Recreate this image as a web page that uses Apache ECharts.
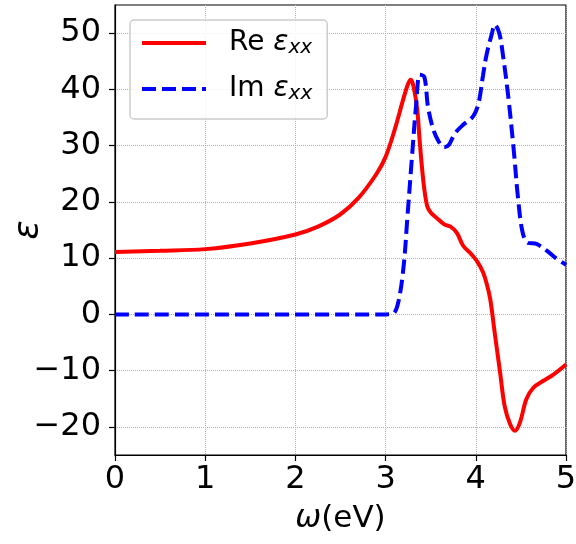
<!DOCTYPE html>
<html>
<head>
<meta charset="utf-8">
<script src="https://cdn.jsdelivr.net/npm/echarts@6/dist/echarts.min.js"></script>
<style>
html,body{margin:0;padding:0;background:#fff;}
#chart{width:576px;height:544px;}
</style>
</head>
<body>
<div id="chart"></div>
<script>
var reX = [0, 0.5, 1.0, 1.5, 2.0, 2.25, 2.5, 2.7, 2.9, 3.0, 3.1, 3.2, 3.25, 3.28, 3.31, 3.35, 3.38, 3.42, 3.46, 3.5, 3.57, 3.65, 3.72, 3.79, 3.86, 3.95, 4.02, 4.08, 4.12, 4.16, 4.21, 4.27, 4.32, 4.38, 4.435, 4.49, 4.56, 4.64, 4.75, 4.86, 5.0];
var reY = [11.1, 11.3, 11.6, 12.6, 14.2, 15.6, 17.8, 20.7, 25.0, 28.0, 32.8, 38.5, 41.0, 41.7, 40.5, 36.5, 30.4, 23.5, 19.3, 18.1, 17.1, 16.0, 15.6, 14.5, 12.2, 10.7, 9.3, 7.5, 5.5, 2.7, -3.3, -10.4, -16.3, -19.5, -20.7, -19.2, -15.1, -13.0, -11.8, -10.7, -8.9];
var imX = [0, 3.0, 3.08, 3.14, 3.2, 3.24, 3.29, 3.34, 3.38, 3.43, 3.47, 3.53, 3.59, 3.65, 3.7, 3.77, 3.86, 3.97, 4.03, 4.08, 4.12, 4.18, 4.21, 4.26, 4.30, 4.36, 4.42, 4.47, 4.52, 4.58, 4.66, 4.71, 4.79, 4.88, 5.0];
var imY = [0, 0, 0.1, 2.1, 8.6, 16.9, 27.5, 37.5, 42.6, 42.2, 36.9, 32.8, 30.7, 29.7, 30.1, 32.2, 33.7, 35.2, 37.5, 42.5, 46.2, 50.0, 51.5, 50.0, 46.2, 38.7, 29.3, 20.4, 14.5, 12.7, 12.6, 12.2, 11.3, 10.1, 8.8];
var xTicks = [0, 1, 2, 3, 4, 5];
var yTicks = [-20, -10, 0, 10, 20, 30, 40, 50];
var seriesNames = ['Re', 'Im'];

function pairs(xs, ys) { return xs.map(function (x, i) { return [x, ys[i]]; }); }

var FONT = 'DejaVu Sans';
var chart = echarts.init(document.getElementById('chart'), null, {renderer: 'canvas'});
chart.setOption({
  animation: false,
  backgroundColor: '#fff',
  grid: {left: 115, right: 10, top: 5, bottom: 89, show: true, borderColor: '#000', borderWidth: 1.2,
         backgroundColor: 'transparent', containLabel: false, outerBoundsMode: 'none'},
  legend: {
    left: 130, top: 20, orient: 'vertical',
    data: seriesNames,
    itemWidth: 64, itemHeight: 28, itemGap: 17,
    padding: [9, 15, 15, 10],
    backgroundColor: 'rgba(255,255,255,0.85)',
    borderColor: '#cccccc', borderWidth: 1.5, borderRadius: 4,
    itemStyle: {opacity: 0},
    lineStyle: {width: 4},
    formatter: function (n) { return '{a|' + n + ' }{b|ε}{c|xx}'; },
    textStyle: {
      fontFamily: FONT, fontSize: 28, color: '#000', padding: [0, 0, 0, 18],
      rich: {
        a: {fontFamily: FONT, fontSize: 28, color: '#000'},
        b: {fontFamily: FONT, fontSize: 28, fontStyle: 'italic', color: '#000'},
        c: {fontFamily: FONT, fontSize: 20, fontStyle: 'italic', color: '#000', verticalAlign: 'bottom', padding: [10, 0, 0, 0]}
      }
    }
  },
  xAxis: {
    type: 'value', min: 0, max: 5, interval: 1,
    name: '{w|ω}(eV)', nameLocation: 'middle', nameGap: 48, nameMoveOverlap: false,
    nameTextStyle: {fontFamily: FONT, fontSize: 31, color: '#000', rich: {w: {fontFamily: FONT, fontSize: 31, fontStyle: 'italic', color: '#000'}}},
    axisLine: {show: true, onZero: false, lineStyle: {color: '#000', width: 1.2}},
    axisTick: {show: true, inside: false, length: 6, lineStyle: {color: '#000', width: 1.2}},
    axisLabel: {fontFamily: FONT, fontSize: 32, color: '#000', margin: 9, customValues: xTicks},
    splitLine: {show: true, lineStyle: {color: '#b0b0b0', type: 'dotted', width: 1}}
  },
  yAxis: {
    type: 'value', min: -25, max: 55,
    name: 'ε', nameLocation: 'middle', nameGap: 68, nameMoveOverlap: false,
    nameTextStyle: {fontFamily: FONT, fontSize: 36, fontStyle: 'italic', color: '#000'},
    axisLine: {show: true, onZero: false, lineStyle: {color: '#000', width: 1.2}},
    axisTick: {show: true, inside: false, length: 6, lineStyle: {color: '#000', width: 1.2}, customValues: yTicks},
    axisLabel: {fontFamily: FONT, fontSize: 32, color: '#000', margin: 14, customValues: yTicks,
      formatter: function (v) { return v < 0 ? '\u2212' + Math.abs(v) : String(v); }},
    splitLine: {show: true, lineStyle: {color: '#b0b0b0', type: 'dotted', width: 1}}
  },
  series: [
    {name: seriesNames[0], type: 'line', data: pairs(reX, reY), smooth: 0.35, symbol: 'none',
     lineStyle: {color: '#ff0000', width: 4}, itemStyle: {color: '#ff0000'}, z: 3},
    {name: seriesNames[1], type: 'line', data: pairs(imX, imY), smooth: 0.35, symbol: 'none',
     lineStyle: {color: '#0000ff', width: 4, type: [14, 6]}, itemStyle: {color: '#0000ff'}, z: 4}
  ]
});
</script>
</body>
</html>
